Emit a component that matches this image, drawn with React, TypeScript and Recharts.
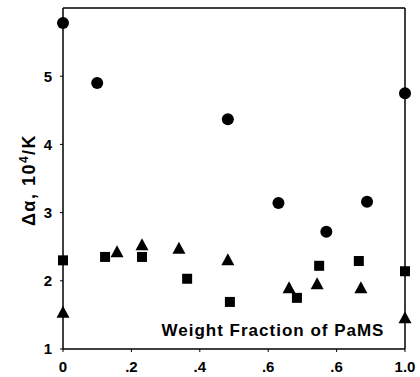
import React from 'react';
import { ScatterChart, Scatter, XAxis, YAxis, ReferenceLine } from 'recharts';

const circleX = [0, 0.1, 0.482, 0.63, 0.77, 0.889, 1.0];
const circleY = [5.78, 4.9, 4.37, 3.14, 2.72, 3.16, 4.75];
const squareX = [0, 0.123, 0.231, 0.363, 0.488, 0.684, 0.749, 0.865, 1.0];
const squareY = [2.3, 2.35, 2.35, 2.03, 1.69, 1.75, 2.22, 2.29, 2.14];
const triX = [0, 0.158, 0.231, 0.339, 0.482, 0.661, 0.743, 0.871, 1.0];
const triY = [1.53, 2.42, 2.52, 2.47, 2.3, 1.89, 1.95, 1.89, 1.45];
const xTicks = [0, 0.2, 0.4, 0.6, 0.8, 1.0];
const xTickLabels = ['0', '.2', '.4', '.6', '.6', '1.0'];
const yTicks = [1, 2, 3, 4, 5];

const toPts = (xs: number[], ys: number[]) => xs.map((x, i) => ({ x, y: ys[i] }));
const circles = toPts(circleX, circleY);
const squares = toPts(squareX, squareY);
const triangles = toPts(triX, triY);

const FONT = '"Liberation Sans", Arial, sans-serif';

const CircleShape = (p: any) => <circle cx={p.cx} cy={p.cy} r={6} fill="#000" />;
const SquareShape = (p: any) => <rect x={p.cx - 5} y={p.cy - 5} width={10} height={10} fill="#000" />;
const TriShape = (p: any) => (
  <polygon points={`${p.cx},${p.cy - 7} ${p.cx - 6.5},${p.cy + 5} ${p.cx + 6.5},${p.cy + 5}`} fill="#000" />
);

const YLabel = () => (
  <text x={35} y={180} transform="rotate(-90 35 180)" textAnchor="middle" fontFamily={FONT} fontWeight="bold" fontSize={18} letterSpacing={1.5} fill="#000">
    <tspan>Δα,  10</tspan>
    <tspan dy={-7} fontSize={12}>4</tspan>
    <tspan dy={7}>/K</tspan>
  </text>
);

const XLabel = () => (
  <text x={273} y={336} textAnchor="middle" fontFamily={FONT} fontWeight="bold" fontSize={17} letterSpacing={1} fill="#000">
    Weight Fraction of PaMS
  </text>
);

export default function App() {
  return (
    <div style={{ position: 'absolute', left: 0, top: 0, background: '#fff' }}>
      <ScatterChart width={420} height={377} margin={{ top: 8, right: 15, bottom: 0, left: 33 }}>
        <XAxis
          type="number"
          dataKey="x"
          domain={[0, 1]}
          ticks={xTicks}
          tickFormatter={(v: number) => xTickLabels[xTicks.indexOf(v)] ?? String(v)}
          height={28}
          axisLine={{ stroke: '#000', strokeWidth: 1.5 }}
          tickLine={{ stroke: '#000' }}
          tickSize={3}
          tickMargin={9}
          tick={{ fill: '#000', fontFamily: FONT, fontWeight: 'bold', fontSize: 15 }}
          label={<XLabel />}
        />
        <YAxis
          type="number"
          dataKey="y"
          domain={[1, 6]}
          ticks={yTicks}
          width={30}
          axisLine={{ stroke: '#000', strokeWidth: 1.5 }}
          tickLine={{ stroke: '#000' }}
          tickSize={3}
          tickMargin={8}
          tick={{ fill: '#000', fontFamily: FONT, fontWeight: 'bold', fontSize: 15 }}
          label={<YLabel />}
        />
        <ReferenceLine y={6} stroke="#000" strokeWidth={1.5} />
        <ReferenceLine x={1} stroke="#000" strokeWidth={1.5} />
        <Scatter data={circles} shape={CircleShape} isAnimationActive={false} />
        <Scatter data={squares} shape={SquareShape} isAnimationActive={false} />
        <Scatter data={triangles} shape={TriShape} isAnimationActive={false} />
      </ScatterChart>
    </div>
  );
}
